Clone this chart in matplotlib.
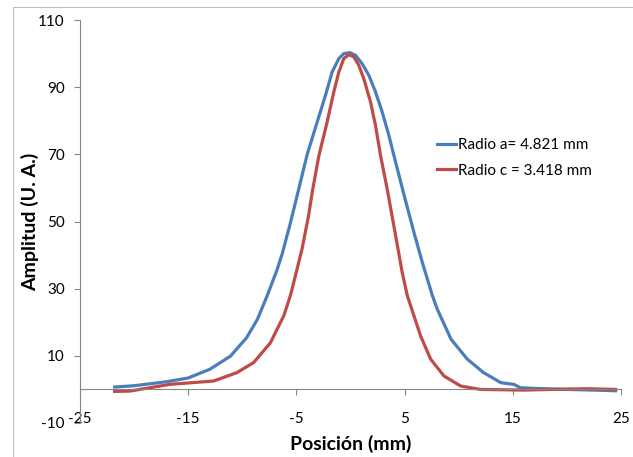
import matplotlib
matplotlib.use('Agg')
import matplotlib.pyplot as plt
from matplotlib.patches import Rectangle

plt.rcParams['font.family'] = ['Lato', 'DejaVu Sans']
plt.rcParams['axes.unicode_minus'] = False

#%% data
pos_a = [-21.8, -20.0, -17.0, -15.0, -13.0, -11.1, -9.6, -8.6, -7.7, -6.8, -6.3, -5.56,
         -4.63, -4.0, -3.08, -2.31, -1.7, -1.08, -0.62, -0.06, 0.46, 1.08, 1.7, 2.31,
         2.93, 3.55, 4.0, 4.94, 5.86, 6.64, 7.57, 8.02, 9.3, 10.8, 12.3, 13.9, 15.1,
         15.7, 17.0, 20.0, 22.5, 24.5]
amp_a = [0.7, 1.1, 2.3, 3.4, 6.0, 9.9, 15.4, 20.9, 27.9, 35.5, 40.5, 49.5,
         61.7, 70.0, 79.6, 87.6, 94.5, 98.5, 100.0, 100.3, 99.5, 97.0, 93.5, 88.6,
         82.6, 75.6, 69.8, 58.0, 46.8, 37.8, 27.9, 23.9, 14.9, 9.0, 5.0, 2.0, 1.5,
         0.5, 0.3, 0.0, -0.2, -0.4]

pos_c = [-21.8, -20.4, -16.7, -12.65, -10.5, -8.95, -7.4, -6.17, -5.56, -5.25, -4.48,
         -3.86, -3.55, -2.93, -2.16, -1.54, -1.08, -0.62, -0.16, 0.31, 0.77, 1.23,
         1.85, 2.31, 2.78, 3.39, 4.17, 4.78, 5.25, 5.56, 6.48, 7.41, 8.64, 10.19,
         12.0, 16.0, 20.0, 22.0, 24.5]
amp_c = [-0.6, -0.5, 1.5, 2.5, 5.0, 8.0, 13.9, 21.9, 27.9, 31.8, 41.8,
         52.0, 58.5, 69.5, 79.6, 88.6, 94.5, 98.5, 99.7, 99.0, 96.5, 92.5,
         85.6, 78.6, 69.6, 59.7, 45.8, 34.8, 27.9, 24.9, 15.9, 9.0, 4.0, 1.0,
         0.0, -0.2, 0.1, 0.2, 0.0]

labels = ['Radio a= 4.821 mm', 'Radio c = 3.418 mm']
xticks = [-25, -15, -5, 5, 15, 25]
yticks = [-10, 10, 30, 50, 70, 90, 110]

#%% plot
fig = plt.figure(figsize=(6.33, 4.57), dpi=100)
ax = fig.add_axes([80/633, 1-423/457, 541/633, 403/457])

ax.plot(pos_a, amp_a, color='#4A7EBB', lw=2.3, label=labels[0])
ax.plot(pos_c, amp_c, color='#BE4B48', lw=2.3, label=labels[1])

ax.set_xlim(-25, 25)
ax.set_ylim(-10, 110)
ax.set_xticks(xticks)
ax.set_yticks(yticks)

axis_grey = '#868686'
ax.spines['top'].set_visible(False)
ax.spines['right'].set_visible(False)
ax.spines['bottom'].set_position(('data', 0))
for s in ['left', 'bottom']:
    ax.spines[s].set_color(axis_grey)
    ax.spines[s].set_linewidth(0.8)
ax.tick_params(axis='both', colors=axis_grey, labelcolor='black', labelsize=11,
               length=4, width=0.8, direction='out')
ax.tick_params(axis='x', pad=12)
ax.tick_params(axis='y', pad=7)

ax.set_xlabel('Posición (mm)', fontsize=14, fontweight='bold')
ax.set_ylabel('Amplitud (U. A.)', fontsize=14, fontweight='bold')
ax.xaxis.label.set_va('center')
ax.yaxis.label.set_va('center')
ax.xaxis.set_label_coords(0.5, -0.052)
ax.yaxis.set_label_coords(-0.092, 0.5)

ax.legend(loc='upper left', bbox_to_anchor=(0.66, 0.707), frameon=False, fontsize=11,
          handlelength=1.25, handletextpad=0.1, labelspacing=0.75, borderaxespad=0,
          borderpad=0)

# chart area border (cropped on right and bottom)
fig.patches.append(Rectangle((13/633, -0.2), 1.2, 1.2 - 7/457, transform=fig.transFigure,
                             fill=False, edgecolor='#BFBFBF', lw=0.8))

plt.savefig('out.png', dpi=100)
